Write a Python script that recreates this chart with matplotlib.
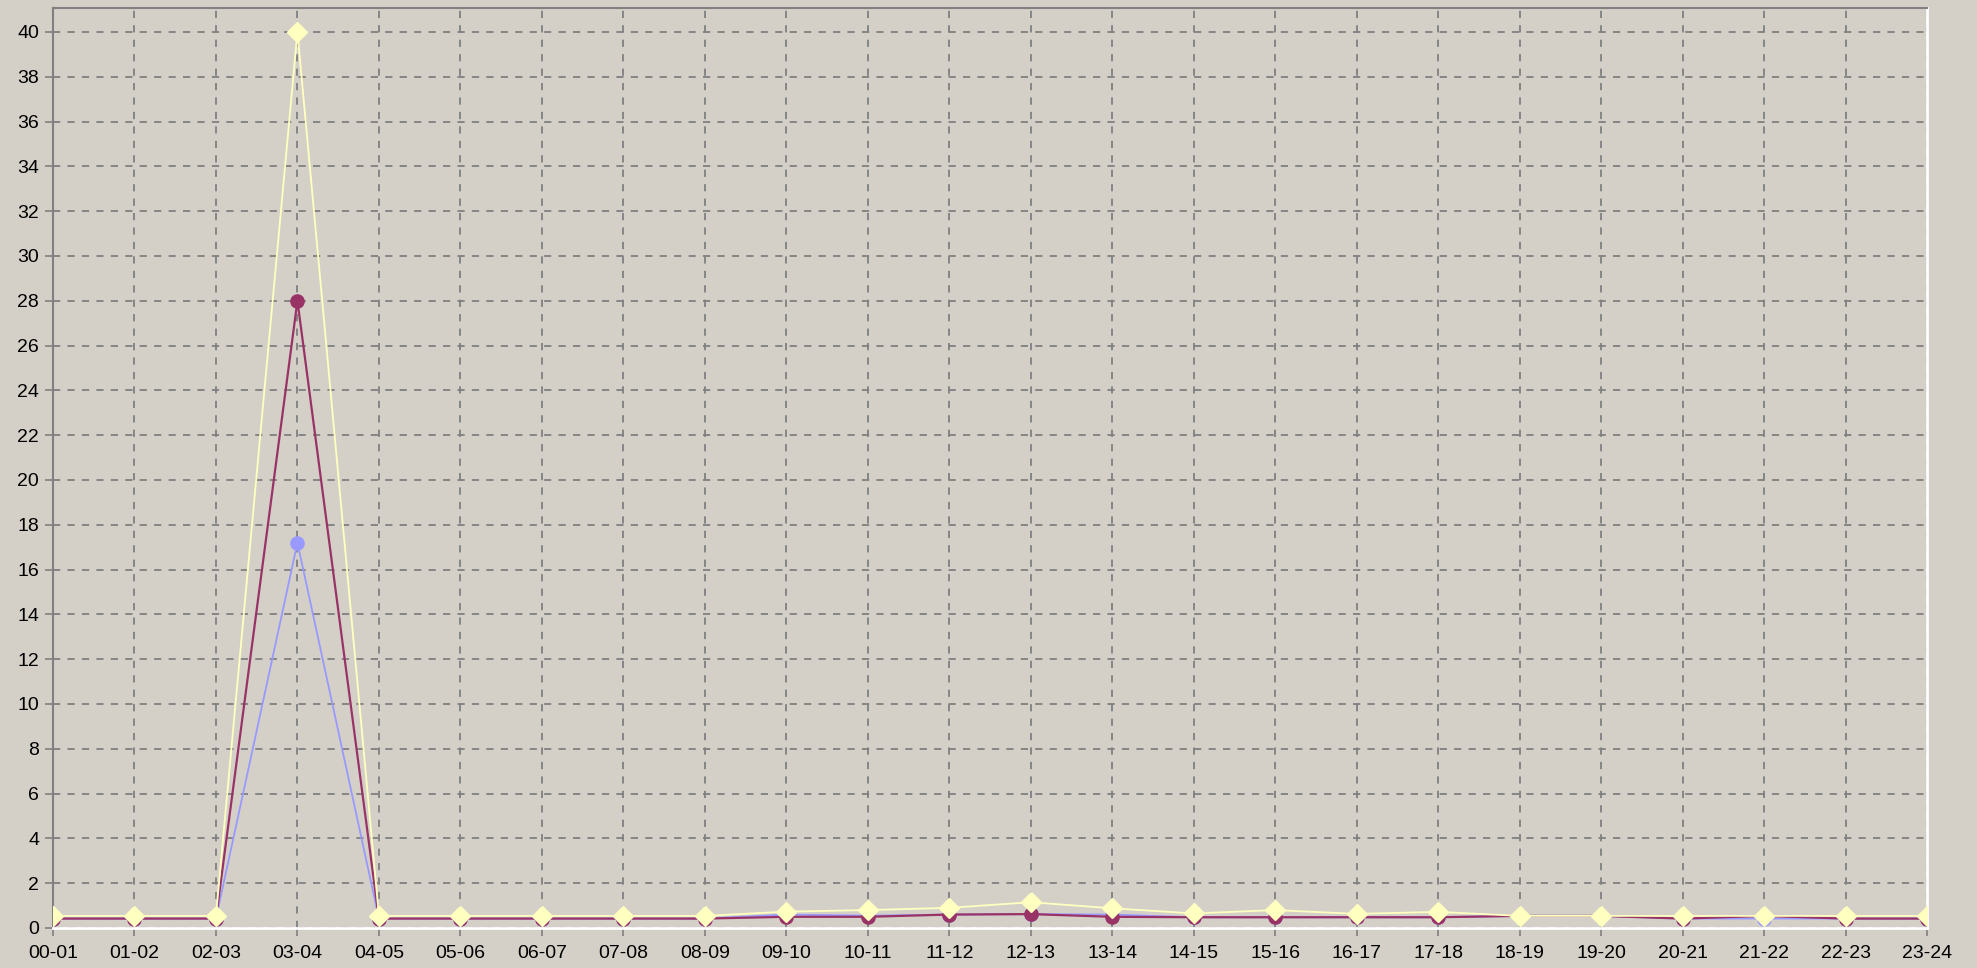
import numpy as np
import matplotlib
matplotlib.use("Agg")
import matplotlib.pyplot as plt

# hour slots
labels = ["%02d-%02d" % (h, h + 1) for h in range(24)]

# series values
yellow_vals = [0.54, 0.54, 0.54, 40.0, 0.54, 0.54, 0.54, 0.54, 0.54, 0.73, 0.80, 0.90,
               1.15, 0.88, 0.65, 0.80, 0.63, 0.72, 0.54, 0.54, 0.54, 0.54, 0.54, 0.54]
maroon_vals = [0.42, 0.42, 0.42, 28.0, 0.42, 0.42, 0.42, 0.42, 0.42, 0.50, 0.50, 0.60,
               0.62, 0.50, 0.48, 0.48, 0.48, 0.48, 0.54, 0.54, 0.42, 0.54, 0.42, 0.42]
blue_vals = [0.42, 0.42, 0.42, 17.2, 0.42, 0.42, 0.42, 0.42, 0.42, 0.60, 0.55, 0.60,
             0.62, 0.60, 0.48, 0.48, 0.48, 0.48, 0.54, 0.54, 0.42, 0.42, 0.42, 0.42]
y_ticks = list(range(0, 41, 2))

bg = '#D4D0C8'
plt.rcParams['font.family'] = ['Liberation Sans', 'DejaVu Sans']

fig = plt.figure(figsize=(19.77, 9.68), dpi=100, facecolor=bg)
ax = fig.add_axes([53 / 1977, 1 - 928 / 968, 1874 / 1977, 920 / 968])
ax.set_facecolor(bg)

x = np.arange(len(labels))

# blue, then maroon, yellow on top
ax.plot(x, blue_vals, '-o', color='#9999FF', linewidth=1.3, markersize=9.5,
        markeredgecolor='#9999FF', zorder=3)
ax.plot(x, maroon_vals, '-o', color='#993366', linewidth=1.6, markersize=9.5,
        markeredgecolor='#993366', zorder=4)
ax.plot(x, yellow_vals, '-D', color='#FFFFC0', linewidth=1.3, markersize=10.5,
        markeredgecolor='#FFFFC0', zorder=5)

ax.set_xlim(0, 23)
ax.set_ylim(0, 41.07)
ax.set_xticks(x)
ax.set_xticklabels(labels)
ax.set_yticks(y_ticks)
ax.tick_params(axis='both', labelsize=14, colors='#808080', labelcolor='black',
               length=6, width=1.2)
ax.tick_params(axis='y', pad=4)
ax.tick_params(axis='x', pad=6)

ax.grid(True, color='#808080', linestyle=(0, (4, 4)), linewidth=1.3, zorder=1)
ax.set_axisbelow(True)

for side in ['left', 'top']:
    ax.spines[side].set_color('#808080')
    ax.spines[side].set_linewidth(1.5)
for side in ['right', 'bottom']:
    ax.spines[side].set_color('white')
    ax.spines[side].set_linewidth(2)

plt.savefig('out.png', dpi=100, facecolor=bg)
